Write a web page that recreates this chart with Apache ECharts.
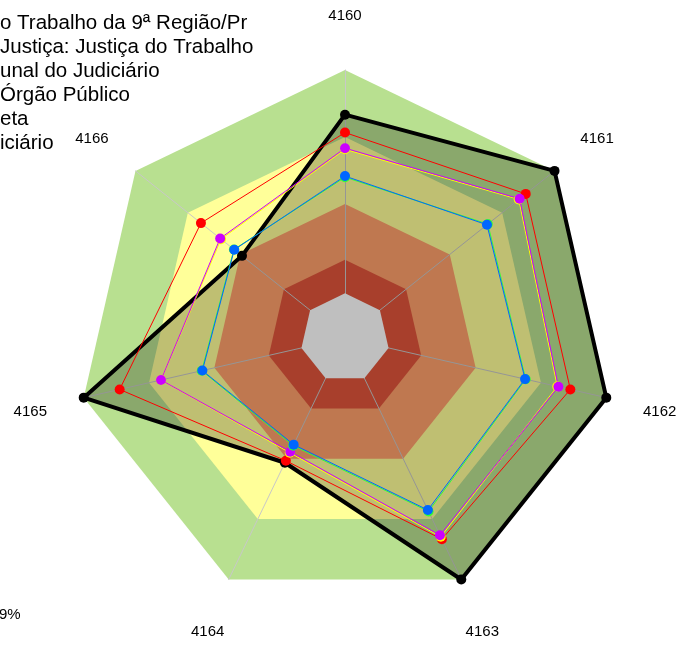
<!DOCTYPE html>
<html>
<head>
<meta charset="utf-8">
<script src="https://cdn.jsdelivr.net/npm/echarts@6/dist/echarts.min.js"></script>
<style>
    html, body { margin: 0; padding: 0; background: #fff; }
    #radarBox { width: 677px; height: 664px; }
</style>
</head>
<body>
<div id="radarBox"></div>
<script>
// indicadores (sentido horário a partir do topo)
var indicadores = ['4160', '4161', '4162', '4163', '4164', '4165', '4166'];
// nomes da legenda (como aparecem)
var nomes = [
    'o Trabalho da 9ª Região/Pr',
    'Justiça: Justiça do Trabalho',
    'unal do Judiciário',
    'Órgão Público',
    'eta',
    'iciário'
];
// valores de cada série (%)
var serieTribunal = [80, 100, 100, 100, 42, 100, 39];
var serieSegmento = [72, 83.5, 83.5, 80, 41, 83.5, 62.5];
var serieJudiciario = [65, 80, 78, 78, 36.5, 64.5, 51.5];
var serieOrgao = [64.5, 79.5, 77.5, 78.8, 37, 64.5, 51];
var serieMeta = [52, 61.8, 63, 66.2, 33.5, 45.8, 43.6];
var serieMedia = [52.5, 61.3, 62.7, 65.5, 33, 45.5, 43.4];
// faixas de classificação
var faixas = [100, 70, 40, 15, 0];
var textoRodape = '9%';

var coresSeries = ['#000000', '#ff0000', '#ffff00', '#cc00ff', '#33ff33', '#0066ff'];
var coresFaixas = ['#b8e090', '#ffff99', '#ffa06b', '#e0553b', '#ffffff'];
// ajuste fino dos rótulos dos eixos [cima, direita, baixo, esquerda]
var padRotulos = {
    '4160': [0, 0, 37, 0],
    '4161': [0, 0, 52, 18],
    '4162': [24, 0, 0, 27],
    '4163': [87, 0, 0, 0],
    '4164': [87, 0, 0, 0],
    '4165': [24, 27, 0, 0],
    '4166': [0, 19, 52, 0]
};

(function () {
    var myChart = echarts.init(document.getElementById('radarBox'));

    // echarts desenha no sentido anti-horário: reordena
    var ordem = [0, 6, 5, 4, 3, 2, 1];
    function reordena(arr) {
        return ordem.map(function (i) { return arr[i]; });
    }

    var valores = [serieTribunal, serieSegmento, serieOrgao, serieJudiciario, serieMeta, serieMedia];
    var nomesSerie = [nomes[0], nomes[1], nomes[3], nomes[2], nomes[4], nomes[5]];

    var series = [];
    // faixas de fundo
    faixas.forEach(function (f, k) {
        series.push({
            type: 'radar',
            name: 'faixa' + f,
            z: f === 0 ? 1.6 : 1,
            silent: true,
            symbol: 'none',
            lineStyle: { width: 0, opacity: 0 },
            areaStyle: { color: coresFaixas[k], opacity: 1 },
            emphasis: { disabled: true },
            data: [{ value: reordena(indicadores.map(function () { return f; })) }]
        });
    });
    // séries de dados
    valores.forEach(function (v, k) {
        var preto = k === 0;
        series.push({
            type: 'radar',
            name: nomesSerie[k],
            z: 2,
            symbol: 'circle',
            symbolSize: 10,
            itemStyle: { color: coresSeries[k] },
            lineStyle: { color: coresSeries[k], width: preto ? 4 : 1 },
            areaStyle: preto ? { color: '#000', opacity: 0.25 } : null,
            emphasis: { disabled: true },
            data: [{ value: reordena(v) }]
        });
    });

    var rich = {};
    indicadores.forEach(function (n) {
        rich['r' + n] = { padding: padRotulos[n], fontSize: 15, fontFamily: 'Liberation Sans', color: '#000' };
    });

    var option = {
        animation: false,
        backgroundColor: '#fff',
        title: {
            text: textoRodape,
            left: -1,
            top: 607,
            padding: 0,
            textStyle: { fontSize: 15, fontWeight: 'normal', fontFamily: 'Liberation Sans', color: '#000' }
        },
        legend: {
            data: nomes,
            orient: 'vertical',
            left: -35,
            top: 8,
            padding: 5,
            itemGap: 3,
            itemWidth: 25,
            itemHeight: 14,
            selectedMode: false,
            textStyle: { fontSize: 20.5, fontFamily: 'Liberation Sans', color: '#000' }
        },
        radar: {
            center: [345, 338],
            radius: 268,
            startAngle: 90,
            shape: 'polygon',
            splitNumber: 6,
            z: 1.5,
            nameGap: 10,
            axisName: {
                color: '#000',
                fontSize: 15,
                fontFamily: 'Liberation Sans',
                formatter: function (name) { return '{r' + name + '|' + name + '}'; },
                rich: rich
            },
            indicator: reordena(indicadores).map(function (n) {
                return { name: n, min: -20, max: 100 };
            }),
            axisLine: { lineStyle: { color: '#c8c8c8', width: 1 } },
            splitLine: { show: false },
            splitArea: { show: false }
        },
        series: series
    };
    myChart.setOption(option);
})();
</script>
</body>
</html>
